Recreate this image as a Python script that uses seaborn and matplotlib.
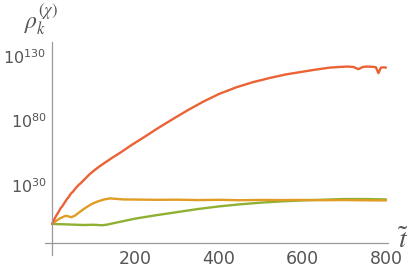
import numpy as np
import pandas as pd
import matplotlib
matplotlib.use("Agg")
import matplotlib.pyplot as plt
import matplotlib.ticker as mticker
import seaborn as sns

# log10 of rho values
red_t = [0, 5, 10, 15, 20, 25, 30, 35, 40, 45, 50, 56, 63, 70, 80, 90, 100, 110, 120, 143, 165, 190,
         223, 255, 291, 325, 362, 400, 442, 480, 522, 560, 602, 635, 666, 690, 706, 722, 734, 745,
         754, 768, 776, 782, 788, 795, 800]
red_v = [0, 3.5, 6.5, 9.0, 12.0, 14.0, 16.5, 19.0, 21.0, 23.5, 25.0, 27.5, 30.0, 32.0, 35.3, 38.5,
         41.2, 43.7, 46.0, 51.0, 55.5, 61.0, 67.7, 74.4, 81.5, 88.0, 94.6, 100.6, 105.8, 109.6, 113.0,
         115.7, 117.9, 119.6, 121.0, 121.5, 121.8, 121.5, 119.8, 121.5, 121.8, 121.6, 121.3, 116.7,
         121.0, 121.2, 121.0]

orange_t = [0, 10, 20, 30, 35, 40, 46, 55, 65, 80, 95, 110, 125, 139, 150, 170, 200, 250, 300, 350,
            400, 450, 500, 550, 600, 650, 700, 750, 800]
orange_v = [0, 2.5, 4.5, 6.0, 6.3, 5.8, 5.2, 6.5, 9.0, 12.5, 15.5, 17.5, 19.0, 19.8, 19.5, 19.0,
            18.9, 18.7, 18.8, 18.5, 18.7, 18.4, 18.6, 18.5, 18.6, 18.4, 18.5, 18.3, 18.2]

green_t = [0, 25, 50, 75, 100, 120, 132, 150, 200, 250, 300, 350, 400, 450, 500, 550, 600, 650, 700,
           750, 800]
green_v = [0, -0.2, -0.5, -0.8, -0.6, -1.0, -0.5, 0.8, 4.2, 6.8, 9.2, 11.6, 13.6, 15.2, 16.5, 17.5,
           18.2, 18.8, 19.3, 19.3, 19.0]

x_ticks = [200, 400, 600, 800]
y_major_exp = [30, 80, 130]

colors = {"red": "#EB6235", "orange": "#E19C24", "green": "#8FB032"}

frames = []
for name, t, v in [("green", green_t, green_v), ("orange", orange_t, orange_v), ("red", red_t, red_v)]:
    frames.append(pd.DataFrame({"t": t, "rho": [10.0 ** e for e in v], "series": name}))
df = pd.concat(frames, ignore_index=True)

sns.set_style("white")
plt.rcParams["mathtext.fontset"] = "dejavusans"

fig = plt.figure(figsize=(4.14, 2.70), dpi=100)
ax = fig.add_axes([45 / 414, 15 / 270, (388 - 45) / 414, (255 - 42) / 270])
ax.set_yscale("log")

sns.lineplot(data=df, x="t", y="rho", hue="series", palette=colors, hue_order=["green", "orange", "red"],
             linewidth=1.7, legend=False, ax=ax, sort=False)

ax.set_xlim(-17, 805)
ax.set_ylim(10.0 ** -24, 10.0 ** 140.8)

for s in ["top", "right"]:
    ax.spines[s].set_visible(False)
ax.spines["left"].set_position(("data", 0))
ax.spines["bottom"].set_position(("data", 10.0 ** -14.7))
for s in ["left", "bottom"]:
    ax.spines[s].set_color("#999999")
    ax.spines[s].set_linewidth(0.9)

ax.xaxis.set_major_locator(mticker.FixedLocator(x_ticks))
ax.xaxis.set_minor_locator(mticker.FixedLocator([t for t in range(50, 801, 50) if t not in x_ticks]))
ax.xaxis.set_major_formatter(mticker.FixedFormatter([str(t) for t in x_ticks]))

ax.yaxis.set_major_locator(mticker.FixedLocator([10.0 ** e for e in y_major_exp]))
ax.yaxis.set_major_formatter(mticker.FixedFormatter([r"$10^{%d}$" % e for e in y_major_exp]))
ax.yaxis.set_minor_locator(mticker.FixedLocator([10.0 ** e for e in range(-20, 141, 10) if e not in y_major_exp]))
ax.yaxis.set_minor_formatter(mticker.NullFormatter())

ax.tick_params(axis="both", which="major", direction="in", length=5, width=0.9, color="#999999",
               labelcolor="#555555")
ax.tick_params(axis="both", which="minor", direction="in", length=3, width=0.8, color="#999999")
ax.tick_params(axis="x", which="major", labelsize=12.5, pad=5)
ax.tick_params(axis="y", which="major", labelsize=11.5, pad=4)

ax.set_xlabel("")
ax.set_ylabel("")

fig.text(24 / 414, 1 - 2 / 270, r"$\rho_k^{(\chi)}$", fontsize=17, color="#555555",
         ha="left", va="top", math_fontfamily="stix")
fig.text(398 / 414, 1 - 226 / 270, r"$\tilde{t}$", fontsize=20, color="#555555",
         ha="left", va="top", math_fontfamily="stix")

fig.savefig("out.png", dpi=100)
